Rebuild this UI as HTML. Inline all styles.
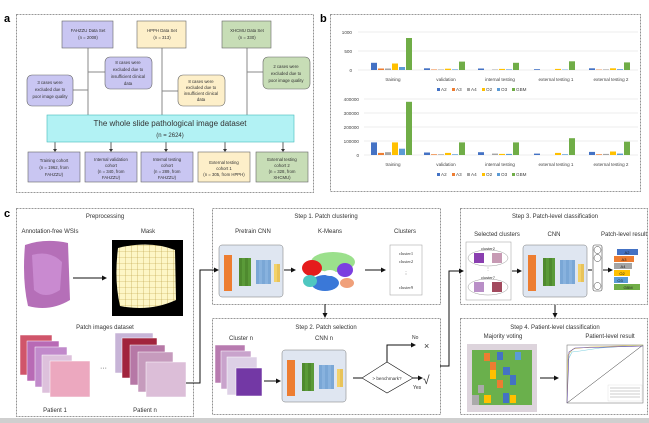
<!DOCTYPE html>
<html><head><meta charset="utf-8"><style>
body{margin:0;background:#fff;}
svg{display:block;font-family:"Liberation Sans",sans-serif;}
</style></head><body>
<svg width="649" height="423" viewBox="0 0 649 423" xmlns="http://www.w3.org/2000/svg">
<rect width="649" height="423" fill="#fff"/>
<rect x="0" y="418" width="649" height="5" fill="#cfcfcf"/>
<g font-weight="bold" font-size="11">
<text x="4" y="22">a</text><text x="320" y="22">b</text><text x="4" y="217">c</text></g>
<g fill="none" stroke="#777" stroke-dasharray="2,1" stroke-width="0.8">
<rect x="16.5" y="14.5" width="297" height="178"/>
<rect x="330.5" y="14.5" width="310" height="177"/>
<rect x="16.5" y="208.5" width="177" height="208"/>
<rect x="212.5" y="208.5" width="228" height="96"/>
<rect x="212.5" y="318.5" width="228" height="96"/>
<rect x="460.5" y="208.5" width="187" height="96"/>
<rect x="460.5" y="318.5" width="187" height="96"/>
</g>
<!-- panel a -->
<g stroke="#888" stroke-width="1" fill="none">
<line x1="88" y1="48" x2="88" y2="116"/><line x1="162" y1="48" x2="162" y2="116"/><line x1="247" y1="48" x2="247" y2="116"/>
<line x1="73" y1="90" x2="88" y2="90"/><line x1="88" y1="72" x2="105" y2="72"/><line x1="162" y1="91" x2="178" y2="91"/><line x1="247" y1="72" x2="263" y2="72"/>
</g>
<g stroke="#333" stroke-width="0.8">
<line x1="55" y1="142" x2="55" y2="150"/><line x1="111" y1="142" x2="111" y2="150"/><line x1="166" y1="142" x2="166" y2="150"/><line x1="225" y1="142" x2="225" y2="150"/><line x1="283" y1="142" x2="283" y2="150"/></g>
<g fill="#333"><path d="M53 149h4l-2 3z"/><path d="M109 149h4l-2 3z"/><path d="M164 149h4l-2 3z"/><path d="M223 149h4l-2 3z"/><path d="M281 149h4l-2 3z"/></g>
<g stroke="#666" stroke-width="0.6">
<rect x="62" y="21" width="51" height="27" fill="#c9c6f2"/>
<rect x="137" y="21" width="49" height="27" fill="#fdefc9"/>
<rect x="222" y="21" width="49" height="27" fill="#c7ddb6"/>
<rect x="27" y="75" width="46" height="31" rx="5" fill="#c9c6f2"/>
<rect x="105" y="57" width="47" height="32" rx="5" fill="#c9c6f2"/>
<rect x="178" y="75" width="47" height="31" rx="5" fill="#fdefc9"/>
<rect x="263" y="57" width="47" height="32" rx="5" fill="#c7ddb6"/>
<rect x="47" y="115" width="247" height="27" fill="#b2f2f4" stroke="#4bb"/>
<rect x="28" y="152" width="52" height="30" fill="#c9c6f2"/>
<rect x="85" y="152" width="52" height="30" fill="#c9c6f2"/>
<rect x="141" y="152" width="52" height="30" fill="#c9c6f2"/>
<rect x="198" y="152" width="52" height="30" fill="#fdefc9"/>
<rect x="256" y="152" width="52" height="30" fill="#c7ddb6"/>
</g>
<g font-size="4.3" fill="#333" text-anchor="middle">
<text x="88" y="32">FAHZZU Data Set</text><text x="88" y="39">(n = 2008)</text>
<text x="162" y="32">HPPH Data Set</text><text x="162" y="39">(n = 313)</text>
<text x="247" y="32">XHCMU Data Set</text><text x="247" y="39">(n = 330)</text>
<text x="50" y="84">3 cases were</text><text x="50" y="91">excluded due to</text><text x="50" y="98">poor image quality</text>
<text x="128" y="64">8 cases were</text><text x="128" y="71">excluded due to</text><text x="128" y="78">insufficient clinical</text><text x="128" y="85">data</text>
<text x="201" y="83">8 cases were</text><text x="201" y="89">excluded due to</text><text x="201" y="95">insufficient clinical</text><text x="201" y="101">data</text>
<text x="286" y="68">2 cases were</text><text x="286" y="75">excluded due to</text><text x="286" y="82">poor image quality</text>
<text x="54" y="162">Training cohort</text><text x="54" y="169">(n = 1962, from</text><text x="54" y="176">FAHZZU)</text>
<text x="111" y="161">Internal validation</text><text x="111" y="167">cohort</text><text x="111" y="173">(n = 340, from</text><text x="111" y="179">FAHZZU)</text>
<text x="167" y="161">Internal testing</text><text x="167" y="167">cohort</text><text x="167" y="173">(n = 289, from</text><text x="167" y="179">FAHZZU)</text>
<text x="224" y="164">External testing</text><text x="224" y="170">cohort 1</text><text x="224" y="176">(n = 305, from HPPH)</text>
<text x="282" y="161">External testing</text><text x="282" y="167">cohort 2</text><text x="282" y="173">(n = 328, from</text><text x="282" y="179">XHCMU)</text>
<text x="170" y="126" font-size="8">The whole slide pathological image dataset</text>
<text x="170" y="137" font-size="6">(n = 2624)</text>
</g>
<!-- panel b -->
<g stroke="#ddd" stroke-width="0.6">
<line x1="358" y1="32" x2="638" y2="32"/><line x1="358" y1="51" x2="638" y2="51"/><line x1="358" y1="70" x2="638" y2="70"/>
<line x1="364" y1="99" x2="638" y2="99"/><line x1="364" y1="113" x2="638" y2="113"/><line x1="364" y1="127" x2="638" y2="127"/><line x1="364" y1="141" x2="638" y2="141"/><line x1="364" y1="155" x2="638" y2="155"/>
</g>
<g font-size="4.6" fill="#444" text-anchor="end">
<text x="352" y="34">1000</text><text x="352" y="53">500</text><text x="352" y="72">0</text>
<text x="359" y="101">400000</text><text x="359" y="115">300000</text><text x="359" y="129">200000</text><text x="359" y="143">100000</text><text x="359" y="157">0</text>
</g>
<g font-size="4.6" fill="#444" text-anchor="middle">
<text x="393" y="81">training</text><text x="446" y="81">validation</text><text x="500" y="81">internal testing</text><text x="556" y="81">external testing 1</text><text x="611" y="81">external testing 2</text>
<text x="393" y="166">training</text><text x="446" y="166">validation</text><text x="500" y="166">internal testing</text><text x="556" y="166">external testing 1</text><text x="611" y="166">external testing 2</text>
</g>
<g id="leg" font-size="4.6" fill="#444">
<rect x="437" y="88" width="3" height="3" fill="#4472c4"/><text x="441" y="91">A2</text>
<rect x="452" y="88" width="3" height="3" fill="#ed7d31"/><text x="456" y="91">A3</text>
<rect x="467" y="88" width="3" height="3" fill="#a5a5a5"/><text x="471" y="91">A4</text>
<rect x="482" y="88" width="3" height="3" fill="#ffc000"/><text x="486" y="91">O2</text>
<rect x="497" y="88" width="3" height="3" fill="#5b9bd5"/><text x="501" y="91">O3</text>
<rect x="512" y="88" width="3" height="3" fill="#70ad47"/><text x="516" y="91">GBM</text>
</g>
<use href="#leg" y="85"/>
<!-- chart1 bars base 70 -->
<g>
<rect x="371" y="62.8" width="6" height="7.2" fill="#4472c4"/><rect x="378" y="68.5" width="6" height="1.5" fill="#ed7d31"/><rect x="385" y="68.5" width="6" height="1.5" fill="#a5a5a5"/><rect x="392" y="63.5" width="6" height="6.5" fill="#ffc000"/><rect x="399" y="67" width="6" height="3" fill="#5b9bd5"/><rect x="406" y="38" width="6" height="32" fill="#70ad47"/>
<rect x="424" y="68.3" width="6" height="1.7" fill="#4472c4"/><rect x="431" y="69.5" width="6" height=".5" fill="#ed7d31"/><rect x="438" y="69.5" width="6" height=".5" fill="#a5a5a5"/><rect x="445" y="68.7" width="6" height="1.3" fill="#ffc000"/><rect x="452" y="69.4" width="6" height=".6" fill="#5b9bd5"/><rect x="459" y="61.6" width="6" height="8.4" fill="#70ad47"/>
<rect x="478" y="68.5" width="6" height="1.5" fill="#4472c4"/><rect x="492" y="69.5" width="6" height=".5" fill="#a5a5a5"/><rect x="499" y="68.9" width="6" height="1.1" fill="#ffc000"/><rect x="506" y="69.4" width="6" height=".6" fill="#5b9bd5"/><rect x="513" y="62.8" width="6" height="7.2" fill="#70ad47"/>
<rect x="534" y="69.2" width="6" height=".8" fill="#4472c4"/><rect x="555" y="68.9" width="6" height="1.1" fill="#ffc000"/><rect x="562" y="69.6" width="6" height=".4" fill="#5b9bd5"/><rect x="569" y="61.3" width="6" height="8.7" fill="#70ad47"/>
<rect x="589" y="68.3" width="6" height="1.7" fill="#4472c4"/><rect x="596" y="69.6" width="6" height=".4" fill="#ed7d31"/><rect x="603" y="69.4" width="6" height=".6" fill="#a5a5a5"/><rect x="610" y="68.3" width="6" height="1.7" fill="#ffc000"/><rect x="617" y="69.2" width="6" height=".8" fill="#5b9bd5"/><rect x="624" y="62.4" width="6" height="7.6" fill="#70ad47"/>
</g>
<!-- chart2 bars base 155 -->
<g>
<rect x="371" y="142.4" width="6" height="12.6" fill="#4472c4"/><rect x="378" y="152.9" width="6" height="2.1" fill="#ed7d31"/><rect x="385" y="152.2" width="6" height="2.8" fill="#a5a5a5"/><rect x="392" y="142.4" width="6" height="12.6" fill="#ffc000"/><rect x="399" y="148.7" width="6" height="6.3" fill="#5b9bd5"/><rect x="406" y="101.8" width="6" height="53.2" fill="#70ad47"/>
<rect x="424" y="152.5" width="6" height="2.5" fill="#4472c4"/><rect x="431" y="154.3" width="6" height=".7" fill="#ed7d31"/><rect x="438" y="154.3" width="6" height=".7" fill="#a5a5a5"/><rect x="445" y="152.9" width="6" height="2.1" fill="#ffc000"/><rect x="452" y="154.3" width="6" height=".7" fill="#5b9bd5"/><rect x="459" y="142.4" width="6" height="12.6" fill="#70ad47"/>
<rect x="478" y="152.2" width="6" height="2.8" fill="#4472c4"/><rect x="492" y="153.6" width="6" height="1.4" fill="#a5a5a5"/><rect x="499" y="153.9" width="6" height="1.1" fill="#ffc000"/><rect x="506" y="153.9" width="6" height="1.1" fill="#5b9bd5"/><rect x="513" y="142.4" width="6" height="12.6" fill="#70ad47"/>
<rect x="534" y="153.6" width="6" height="1.4" fill="#4472c4"/><rect x="555" y="152.9" width="6" height="2.1" fill="#ffc000"/><rect x="562" y="154.3" width="6" height=".7" fill="#5b9bd5"/><rect x="569" y="138.2" width="6" height="16.8" fill="#70ad47"/>
<rect x="589" y="151.9" width="6" height="3.1" fill="#4472c4"/><rect x="596" y="154.3" width="6" height=".7" fill="#ed7d31"/><rect x="603" y="153.9" width="6" height="1.1" fill="#a5a5a5"/><rect x="610" y="151.5" width="6" height="3.5" fill="#ffc000"/><rect x="617" y="153.6" width="6" height="1.4" fill="#5b9bd5"/><rect x="624" y="141.7" width="6" height="13.3" fill="#70ad47"/>
</g>
<!-- panel c -->
<defs>
<pattern id="grid" width="6" height="6" patternUnits="userSpaceOnUse"><rect width="6" height="6" fill="#fdf6c6"/><path d="M6 0V6M0 6H6" stroke="#b89a3a" stroke-width="0.6"/></pattern>
<marker id="ar" markerWidth="5" markerHeight="5" refX="4" refY="2.5" orient="auto"><path d="M0 0L5 2.5L0 5z" fill="#111"/></marker>
</defs>
<g font-size="6" fill="#333" text-anchor="middle">
<text x="105" y="218">Preprocessing</text><text x="50" y="233">Annotation-free WSIs</text><text x="148" y="233">Mask</text>
<text x="105" y="329">Patch images dataset</text><text x="55" y="412">Patient 1</text><text x="145" y="412">Patient n</text>
<text x="326" y="218">Step 1. Patch clustering</text><text x="253" y="233">Pretrain CNN</text><text x="330" y="233">K-Means</text><text x="405" y="233">Clusters</text>
<text x="326" y="329">Step 2. Patch selection</text><text x="241" y="340">Cluster n</text><text x="324" y="340">CNN n</text>
<text x="555" y="218">Step 3. Patch-level classification</text><text x="497" y="236">Selected clusters</text><text x="554" y="236">CNN</text><text x="624" y="236">Patch-level result</text>
<text x="555" y="329">Step 4. Patient-level classification</text><text x="503" y="338">Majority voting</text><text x="610" y="338">Patient-level result</text>
</g>
<!-- WSI -->
<path d="M25 245 Q45 238 68 243 L70 300 Q50 312 28 306 Q22 280 25 245z" fill="#b56fb8"/>
<path d="M32 255 Q50 250 62 262 L60 290 Q45 300 34 290z" fill="#c98ad0"/>
<rect x="112" y="240" width="71" height="76" fill="#000"/>
<path d="M118 248 Q150 240 175 250 L176 300 Q150 312 120 306 Q114 280 118 248z" fill="url(#grid)"/>
<line x1="73" y1="278" x2="106" y2="278" stroke="#111" marker-end="url(#ar)"/>
<!-- patch stacks -->
<g stroke="#fff" stroke-width="0.5">
<rect x="20" y="335" width="32" height="40" fill="#d0556a"/><rect x="27" y="341" width="32" height="40" fill="#b86ab5"/><rect x="35" y="347" width="32" height="40" fill="#c18acb"/><rect x="42" y="355" width="30" height="38" fill="#ddc1dc"/><rect x="50" y="361" width="40" height="36" fill="#eca8bf"/>
<rect x="115" y="333" width="38" height="40" fill="#c7b4d7"/><rect x="122" y="338" width="35" height="40" fill="#a1243d"/><rect x="130" y="345" width="35" height="40" fill="#b678a6"/><rect x="138" y="352" width="35" height="40" fill="#c69bbd"/><rect x="146" y="362" width="40" height="35" fill="#dcbed8"/>
</g>
<text x="100" y="370" font-size="7" fill="#333">···</text>
<polyline points="186,383 200,383 200,270 218,270" fill="none" stroke="#111" marker-end="url(#ar)"/>
<!-- CNN boxes -->
<g id="cnn">
<rect x="219" y="245" width="64" height="52" rx="3" fill="#dfe6f1" stroke="#777" stroke-width="0.5"/>
<rect x="224" y="255" width="8" height="36" fill="#ed7d31"/>
<rect x="239" y="258" width="3" height="28" fill="#4f8a2f"/><rect x="242" y="258" width="3" height="28" fill="#5a9a38"/><rect x="245" y="258" width="3" height="28" fill="#4f8a2f"/><rect x="248" y="258" width="3" height="28" fill="#5a9a38"/>
<rect x="256" y="260" width="3" height="24" fill="#7aa7d6"/><rect x="259" y="260" width="3" height="24" fill="#88b2de"/><rect x="262" y="260" width="3" height="24" fill="#7aa7d6"/><rect x="265" y="260" width="3" height="24" fill="#88b2de"/><rect x="268" y="260" width="3" height="24" fill="#7aa7d6"/>
<rect x="274" y="264" width="3" height="18" fill="#f3d26a"/><rect x="277" y="264" width="3" height="18" fill="#e8c35a"/>
</g>
<use href="#cnn" x="63" y="105"/>
<use href="#cnn" x="304" y="0"/>
<!-- scatter -->
<rect x="297" y="245" width="63" height="55" fill="#fff"/>
<ellipse cx="333" cy="262" rx="22" ry="10" fill="#9be08c"/><ellipse cx="312" cy="268" rx="10" ry="8" fill="#e51c1c"/>
<ellipse cx="345" cy="270" rx="8" ry="7" fill="#7b3fe0"/><ellipse cx="325" cy="283" rx="14" ry="8" fill="#3a78d8"/>
<ellipse cx="310" cy="281" rx="7" ry="6" fill="#4fc7c0"/><ellipse cx="347" cy="283" rx="7" ry="5" fill="#f0a07a"/><ellipse cx="330" cy="273" rx="6" ry="3" fill="#fff"/>
<line x1="284" y1="270" x2="295" y2="270" stroke="#111" marker-end="url(#ar)"/>
<line x1="365" y1="270" x2="385" y2="270" stroke="#111" marker-end="url(#ar)"/>
<rect x="390" y="245" width="32" height="50" fill="#fff" stroke="#999" stroke-width="0.5"/>
<g font-size="4.5" fill="#333" font-family="Liberation Serif,serif" text-anchor="middle"><text x="406" y="255">cluster1</text><text x="406" y="263">cluster2</text><text x="406" y="275">⋮</text><text x="406" y="289">cluster9</text></g>
<line x1="325" y1="304" x2="325" y2="317" stroke="#111" marker-end="url(#ar)"/>
<!-- step2 -->
<g stroke="#fff" stroke-width="0.5"><rect x="215" y="345" width="30" height="38" fill="#b87bb0"/><rect x="221" y="351" width="30" height="38" fill="#c9a3cc"/><rect x="227" y="357" width="30" height="38" fill="#ddd0e6"/><rect x="236" y="368" width="26" height="28" fill="#7338a5"/></g>
<line x1="264" y1="381" x2="280" y2="381" stroke="#111" marker-end="url(#ar)"/>
<line x1="353" y1="378" x2="362" y2="378" stroke="#111"/>
<path d="M362 378L387 362L413 378L387 393z" fill="#fff" stroke="#111" stroke-width="0.6"/>
<text x="387" y="380" font-size="4.6" text-anchor="middle" fill="#333">&gt; benchmark?</text>
<polyline points="387,362 387,345 415,345" fill="none" stroke="#111" marker-end="url(#ar)"/>
<text x="412" y="339" font-size="5" fill="#333">No</text><text x="424" y="349" font-size="9" fill="#333">×</text>
<line x1="413" y1="378" x2="422" y2="378" stroke="#111" marker-end="url(#ar)"/>
<text x="423" y="384" font-size="12" fill="#333">√</text><text x="413" y="389" font-size="5" fill="#333">Yes</text>
<polyline points="440,366 449,366 449,271 463,271" fill="none" stroke="#111" marker-end="url(#ar)"/>
<!-- step3 -->
<rect x="466" y="242" width="45" height="58" fill="#fff" stroke="#999" stroke-width="0.5"/>
<ellipse cx="488" cy="258" rx="20" ry="8" fill="none" stroke="#999" stroke-width="0.5"/><ellipse cx="488" cy="287" rx="20" ry="8" fill="none" stroke="#999" stroke-width="0.5"/>
<rect x="474" y="253" width="10" height="10" fill="#8a3fb0"/><rect x="492" y="253" width="10" height="10" fill="#c79ab4"/>
<rect x="474" y="282" width="10" height="10" fill="#b98fc7"/><rect x="492" y="282" width="10" height="10" fill="#a24a5e"/>
<g font-size="4" fill="#333" text-anchor="middle"><text x="488" y="250">cluster2</text><text x="488" y="279">cluster7</text><text x="488" y="270">⋮</text></g>
<line x1="512" y1="271" x2="521" y2="271" stroke="#111" marker-end="url(#ar)"/>
<rect x="593" y="245" width="9" height="46" rx="2" fill="#fff" stroke="#444" stroke-width="0.6"/>
<g fill="#fff" stroke="#444" stroke-width="0.5"><circle cx="597.5" cy="250" r="3.5"/><circle cx="597.5" cy="258" r="3.5"/><circle cx="597.5" cy="286" r="3.5"/></g>
<line x1="588" y1="270" x2="592" y2="270" stroke="#111"/>
<line x1="603" y1="270" x2="612" y2="270" stroke="#111" marker-end="url(#ar)"/>
<g font-size="4" fill="#222" text-anchor="middle">
<rect x="617" y="249" width="21" height="6" fill="#4472c4"/><text x="627" y="254">A2</text>
<rect x="614" y="256" width="20" height="6" fill="#ed7d31"/><text x="624" y="261">A3</text>
<rect x="614" y="263" width="18" height="6" fill="#a5a5a5"/><text x="623" y="268">A4</text>
<rect x="614" y="270" width="16" height="6" fill="#ffc000"/><text x="622" y="275">O2</text>
<rect x="614" y="277" width="14" height="6" fill="#5b9bd5"/><text x="620" y="282">O3</text>
<rect x="614" y="284" width="26" height="6" fill="#70ad47"/><text x="628" y="289">GBM</text>
</g>
<line x1="555" y1="305" x2="555" y2="317" stroke="#111" marker-end="url(#ar)"/>
<!-- step4 -->
<rect x="467" y="344" width="70" height="68" fill="#ddd4dc"/>
<g>
<rect x="472" y="350" width="60" height="55" fill="#6ab04c"/>
<rect x="484" y="353" width="6" height="8" fill="#ed7d31"/><rect x="497" y="352" width="6" height="8" fill="#4472c4"/><rect x="515" y="352" width="6" height="8" fill="#5b9bd5"/>
<rect x="490" y="362" width="6" height="8" fill="#ed7d31"/><rect x="490" y="370" width="6" height="9" fill="#ffc000"/><rect x="503" y="367" width="7" height="8" fill="#4472c4"/><rect x="510" y="375" width="6" height="10" fill="#4472c4"/><rect x="478" y="385" width="6" height="8" fill="#aaa"/><rect x="484" y="395" width="7" height="8" fill="#ffc000"/><rect x="503" y="393" width="6" height="10" fill="#4472c4"/><rect x="510" y="395" width="6" height="8" fill="#ffc000"/><rect x="472" y="395" width="7" height="10" fill="#aaa"/><rect x="497" y="380" width="6" height="8" fill="#ed7d31"/>
</g>
<line x1="540" y1="378" x2="558" y2="378" stroke="#111" marker-end="url(#ar)"/>
<rect x="562" y="343" width="83" height="65" fill="#fff"/>
<rect x="567" y="345" width="76" height="58" fill="none" stroke="#666" stroke-width="0.5"/>
<line x1="567" y1="403" x2="643" y2="345" stroke="#333" stroke-width="0.5"/>
<polyline points="567,403 568,360 572,352 580,351 600,348 643,345" fill="none" stroke="#7fd0e0" stroke-width="0.6"/>
<polyline points="567,403 568,355 573,349 590,347 643,345" fill="none" stroke="#e8d060" stroke-width="0.6"/>
<polyline points="567,403 569,352 575,348 643,346" fill="none" stroke="#5a3fa0" stroke-width="0.6"/>
<rect x="608" y="385" width="34" height="16" fill="#fff" stroke="#ccc" stroke-width="0.3"/>
<g stroke="#999" stroke-width="0.5"><line x1="610" y1="388" x2="640" y2="388"/><line x1="610" y1="391" x2="640" y2="391"/><line x1="610" y1="394" x2="640" y2="394"/><line x1="610" y1="397" x2="640" y2="397"/></g>
</svg>
</body></html>
